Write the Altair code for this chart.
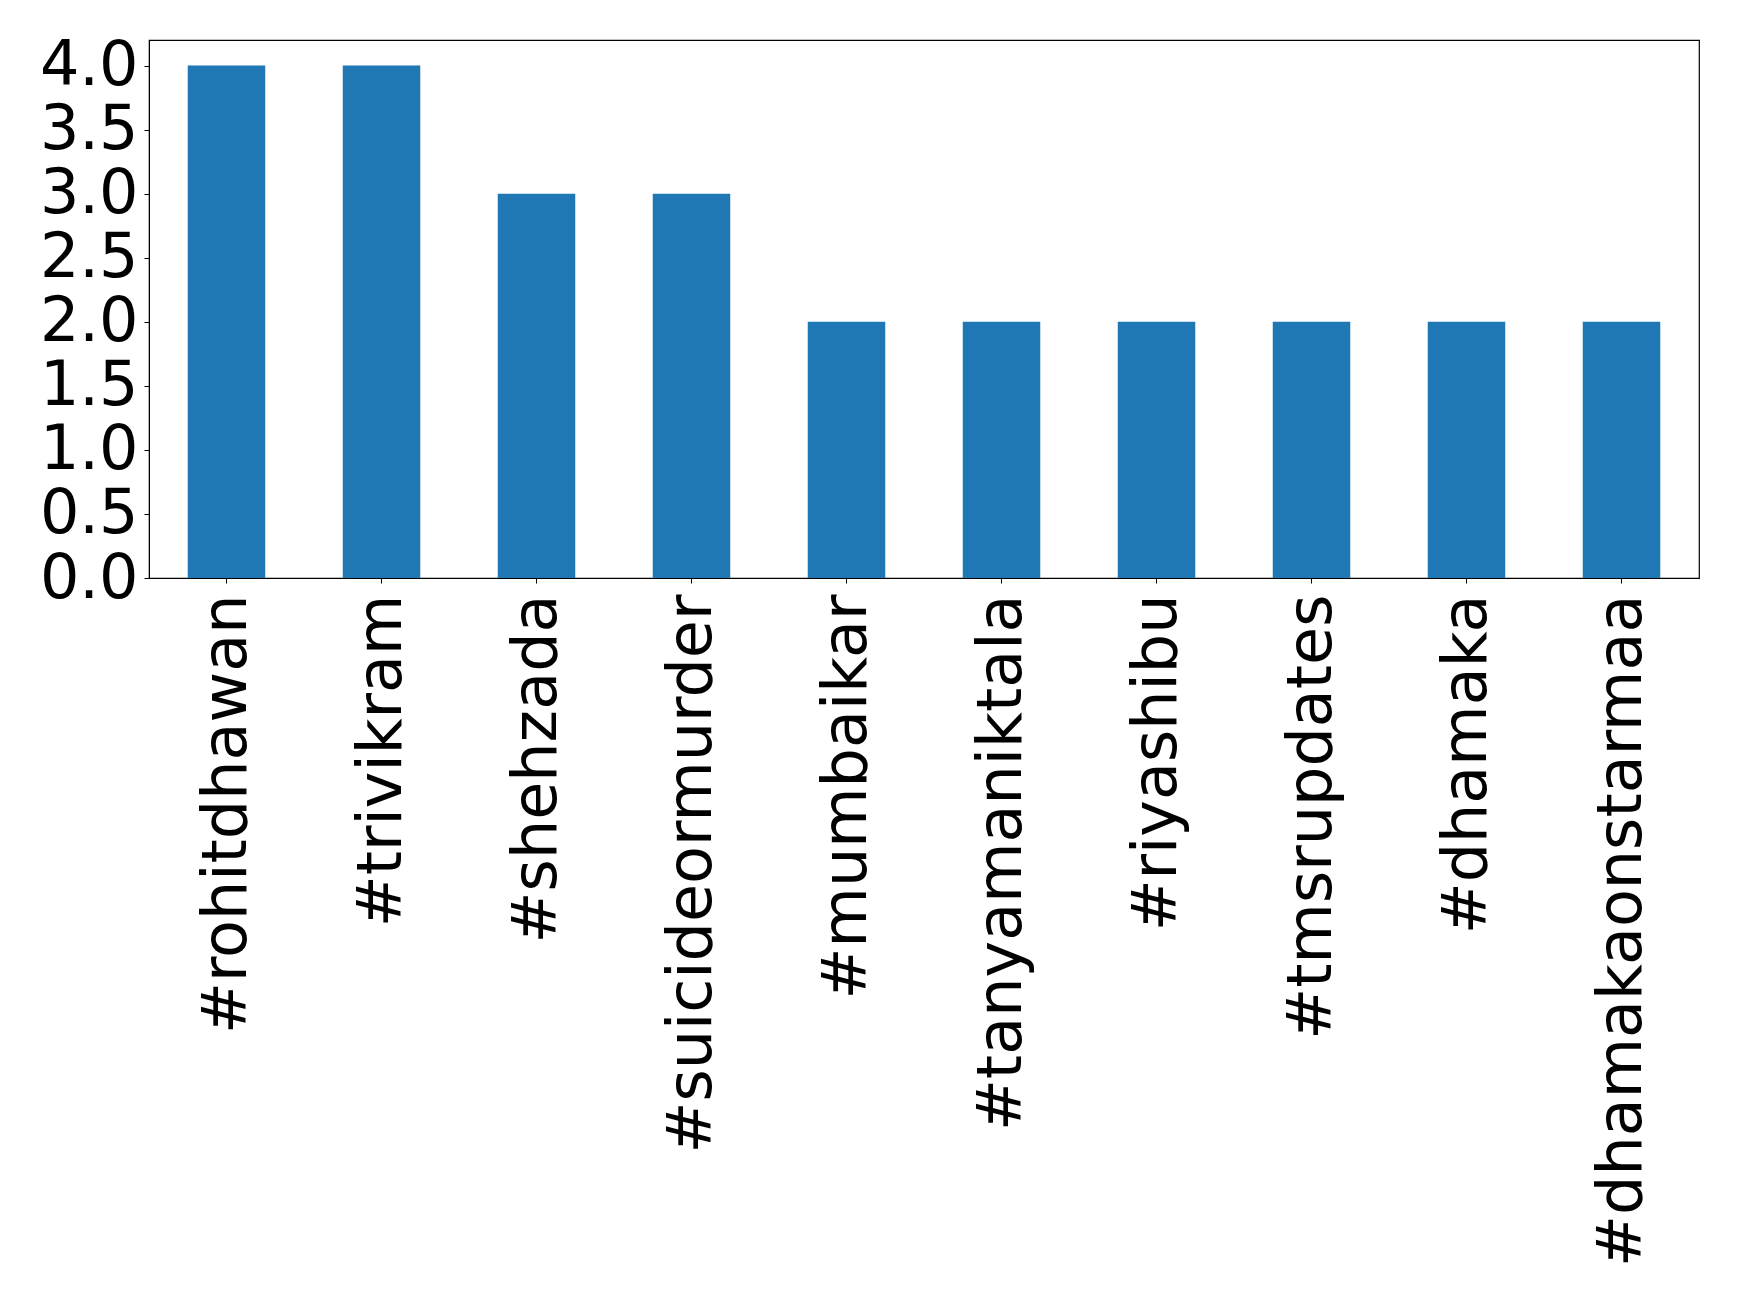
import altair as alt
import pandas as pd

hashtags = ["#rohitdhawan", "#trivikram", "#shehzada", "#suicideormurder", "#mumbaikar",
            "#tanyamaniktala", "#riyashibu", "#tmsrupdates", "#dhamaka", "#dhamakaonstarmaa"]
counts = [4, 4, 3, 3, 2, 2, 2, 2, 2, 2]

df = pd.DataFrame({"tag": hashtags, "count": counts})

chart = alt.Chart(df).mark_bar(color="#1f77b4").encode(
    x=alt.X("tag:N", sort=hashtags, title=None,
            scale=alt.Scale(paddingInner=0.5, paddingOuter=0.25),
            axis=alt.Axis(labelAngle=-90, labelAlign="right", labelBaseline="middle",
                          labelFontSize=62, labelFont="DejaVu Sans", labelColor="black",
                          labelPadding=11, tickSize=5, tickColor="black", domainColor="black",
                          labelLimit=2000, labelOverlap=False)),
    y=alt.Y("count:Q", title=None,
            scale=alt.Scale(domain=[0, 4.2], nice=False, zero=True),
            axis=alt.Axis(values=[0, 0.5, 1, 1.5, 2, 2.5, 3, 3.5, 4], format=".1f",
                          grid=False, labelFontSize=62, labelFont="DejaVu Sans",
                          labelColor="black", labelPadding=6, tickSize=5,
                          tickColor="black", domainColor="black", labelFlush=False,
                          labelOverlap=False)),
).properties(
    width=1550, height=538,
    padding={"left": 141, "top": 32, "right": 20, "bottom": 700},
    autosize=alt.AutoSizeParams(type="none"),
).configure_view(stroke="black", strokeWidth=1.2)

chart.save("out.html", embed_options={"renderer": "svg", "actions": False})
